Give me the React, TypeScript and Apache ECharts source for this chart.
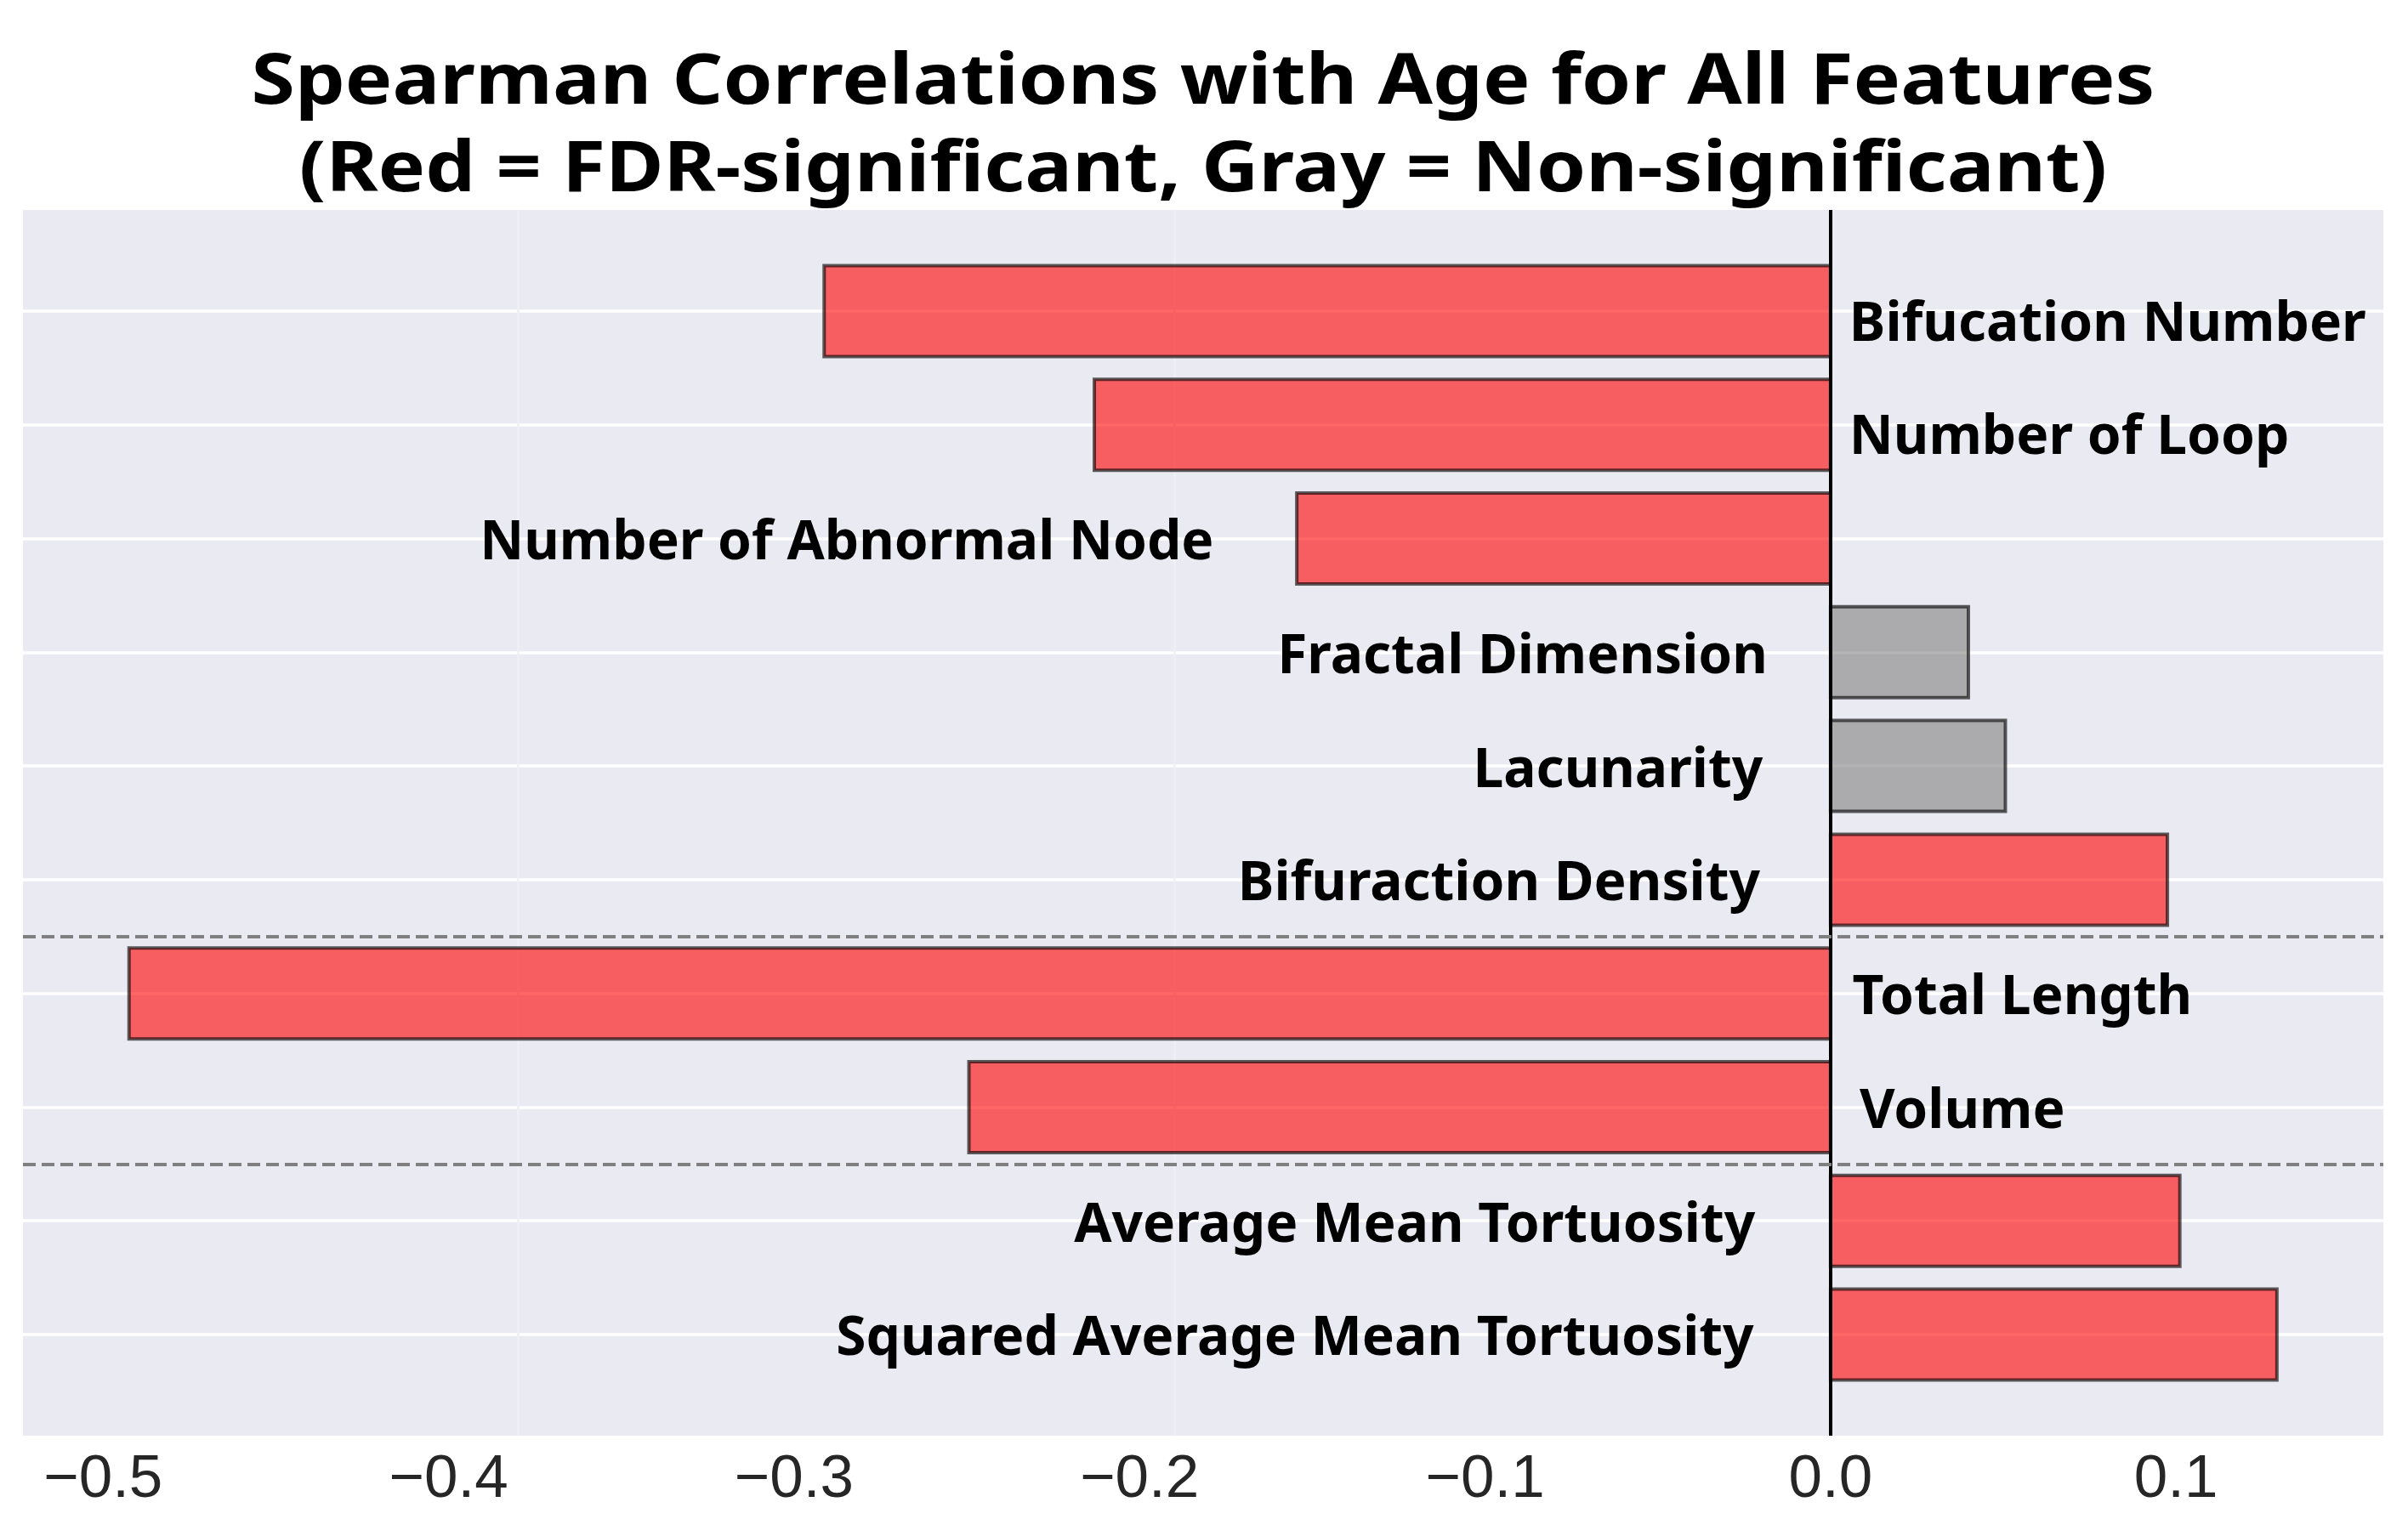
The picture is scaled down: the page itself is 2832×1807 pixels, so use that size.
import React, { useEffect, useRef } from "react";
import * as echarts from "echarts";

const titleLines = [
  "Spearman Correlations with Age for All Features",
  "(Red = FDR-significant, Gray = Non-significant)",
];
const features = [
  "Bifucation Number",
  "Number of Loop",
  "Number of Abnormal Node",
  "Fractal Dimension",
  "Lacunarity",
  "Bifuraction Density",
  "Total Length",
  "Volume",
  "Average Mean Tortuosity",
  "Squared Average Mean Tortuosity",
];
const correlations = [-0.2913, -0.2131, -0.1545, 0.0399, 0.0506, 0.0975, -0.4925, -0.2494, 0.1011, 0.1292];
const significant = [true, true, true, false, false, true, true, true, true, true];
// annotation anchors (data units) for the feature names, as in the original figure
const labelX = [0.0054, 0.0054, -0.1785, -0.0182, -0.0196, -0.0204, 0.0063, 0.0084, -0.0218, -0.0222];
const labelAlign = ["left", "left", "right", "right", "right", "right", "left", "left", "right", "right"];
const labelYNudge = [0.075, 0.075, 0, 0, 0, 0, 0, 0, 0, 0];
const xTicks = [-0.5, -0.4, -0.3, -0.2, -0.1, 0.0, 0.1];
const groupSeparators = [5.5, 7.5];
const faintGridX = [-0.38, -0.19];

export default function App() {
  const ref = useRef<HTMLDivElement>(null);
  useEffect(() => {
    document.body.style.margin = "0";
    const chart = echarts.init(ref.current!, null, { renderer: "svg" });
    const catIdx = features.map((_, i) => i);
    const option: any = {
      animation: false,
      backgroundColor: "#ffffff",
      graphic: titleLines.map((t, i) => ({
        type: "text",
        x: 1415,
        y: 90 + i * 103,
        scaleX: 1.137,
        silent: true,
        style: {
          text: t,
          fontFamily: "Noto Sans",
          fontWeight: "bold",
          fontSize: 82,
          fill: "#000",
          align: "center",
          verticalAlign: "middle",
        },
      })),
      grid: {
        left: 27,
        right: 29,
        top: 247,
        bottom: 118,
        show: true,
        backgroundColor: "#eaeaf2",
        borderWidth: 0,
        containLabel: false,
      },
      xAxis: [
        {
          type: "value",
          min: -0.5232,
          max: 0.16,
          axisLine: { show: false },
          axisTick: { show: false, customValues: xTicks },
          splitLine: { show: false },
          axisLabel: {
            customValues: xTicks,
            margin: 12,
            fontFamily: "Liberation Sans",
            fontSize: 71,
            color: "#262626",
            formatter: (v: number) => (v < -1e-9 ? "\u2212" : "") + Math.abs(v).toFixed(1),
          },
        },
        {
          type: "value",
          min: -0.5232,
          max: 0.16,
          position: "bottom",
          axisLine: { show: false },
          axisTick: { show: false, customValues: faintGridX },
          axisLabel: { show: false },
          splitLine: { show: true, lineStyle: { color: "#efeff5", width: 2.5 } },
        },
      ],
      yAxis: {
        type: "value",
        inverse: true,
        min: -0.89,
        max: 9.89,
        axisLine: { show: false },
        axisTick: { show: false, customValues: catIdx },
        axisLabel: { show: false },
        splitLine: { show: true, lineStyle: { color: "#ffffff", width: 3.5 } },
      },
      series: [
        {
          type: "custom",
          z: 3,
          silent: true,
          data: correlations.map((v, i) => [v, i]),
          encode: { x: 0, y: 1 },
          renderItem: (params: any, api: any) => {
            const i = params.dataIndex;
            const v = api.value(0);
            const c = api.value(1);
            const p0 = api.coord([0, c]);
            const p1 = api.coord([v, c]);
            const h = api.size([0, 0.8])[1];
            const x = Math.min(p0[0], p1[0]);
            const w = Math.abs(p1[0] - p0[0]);
            const lp = api.coord([labelX[i], c + labelYNudge[i]]);
            return {
              type: "group",
              children: [
                {
                  type: "rect",
                  shape: { x, y: p0[1] - h / 2, width: w, height: h },
                  style: {
                    fill: significant[i] ? "rgba(255,0,0,0.6)" : "rgba(128,128,128,0.6)",
                    stroke: "rgba(0,0,0,0.62)",
                    lineWidth: 4,
                  },
                },
                {
                  type: "text",
                  x: lp[0],
                  y: lp[1],
                  style: {
                    text: features[i],
                    fontFamily: "Noto Sans",
                    fontWeight: "bold",
                    fontSize: 64,
                    fill: "#000",
                    align: labelAlign[i],
                    verticalAlign: "middle",
                  },
                },
              ],
            };
          },
        },
        {
          type: "line",
          data: [],
          z: 10,
          silent: true,
          markLine: {
            silent: true,
            symbol: "none",
            label: { show: false },
            data: [
              { xAxis: 0, lineStyle: { color: "#000000", width: 4, type: "solid" } },
              ...groupSeparators.map((y) => ({
                yAxis: y,
                lineStyle: { color: "#808080", width: 4, type: [15, 7] },
              })),
            ],
          },
        },
      ],
    };
    chart.setOption(option);
    return () => chart.dispose();
  }, []);
  return (
    <div
      ref={ref}
      style={{ position: "absolute", left: 0, top: 0, width: 2832, height: 1807 }}
    />
  );
}
